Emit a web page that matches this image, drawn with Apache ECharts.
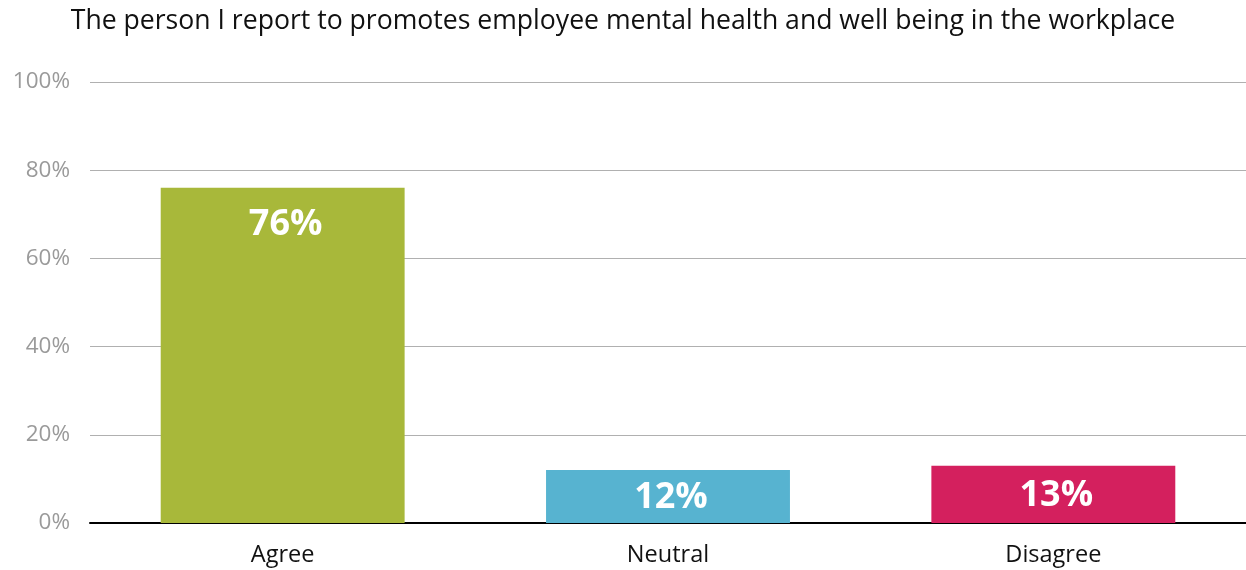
<!DOCTYPE html>
<html>
<head>
<meta charset="utf-8">
<script src="https://cdn.jsdelivr.net/npm/echarts@6/dist/echarts.min.js"></script>
<style>
  html, body { margin: 0; padding: 0; background: #fff; }
  #chart { width: 1246px; height: 570px; }
</style>
</head>
<body>
<div id="chart"></div>
<script>
// Survey responses (percent of respondents)
const titleText = 'The person I report to promotes employee mental health and well being in the workplace';
const categories = ['Agree', 'Neutral', 'Disagree'];
const values = [76, 12, 13];
const barColors = ['#A8B83A', '#57B3D0', '#D4205E'];
const labelPositions = ['insideTop', 'inside', 'inside'];

const FONT = '"Open Sans", "Noto Sans", sans-serif';

const chart = echarts.init(document.getElementById('chart'), null, { renderer: 'canvas' });

chart.setOption({
  animation: false,
  backgroundColor: '#ffffff',
  title: {
    text: titleText,
    left: 'center',
    top: 3,
    textStyle: { fontFamily: FONT, fontSize: 26.6, fontWeight: 'normal', color: '#111' }
  },
  grid: { left: 90, right: 0, top: 82, bottom: 47, containLabel: false },
  xAxis: {
    type: 'category',
    data: categories,
    axisLine: { show: true, lineStyle: { color: '#000', width: 2 } },
    axisTick: { show: false },
    axisLabel: { fontFamily: FONT, fontSize: 23.5, color: '#111', margin: 20 }
  },
  yAxis: {
    type: 'value',
    min: 0,
    max: 100,
    interval: 20,
    axisLine: { show: false },
    axisTick: { show: false },
    axisLabel: {
      fontFamily: FONT, fontSize: 22.5, color: '#9a9a9a', margin: 20,
      formatter: v => v + '%'
    },
    splitLine: { lineStyle: { color: '#b0b0b0', width: 1 } }
  },
  series: [{
    type: 'bar',
    barWidth: '63.3%',
    z: 3,
    data: values.map((v, i) => ({
      value: v,
      itemStyle: { color: barColors[i] },
      label: { position: labelPositions[i] }
    })),
    label: {
      show: true,
      distance: 18,
      offset: [3, 1],
      fontFamily: FONT,
      fontSize: 36,
      fontWeight: 'bold',
      color: '#fff',
      formatter: p => p.value + '%'
    }
  }]
});
</script>
</body>
</html>
